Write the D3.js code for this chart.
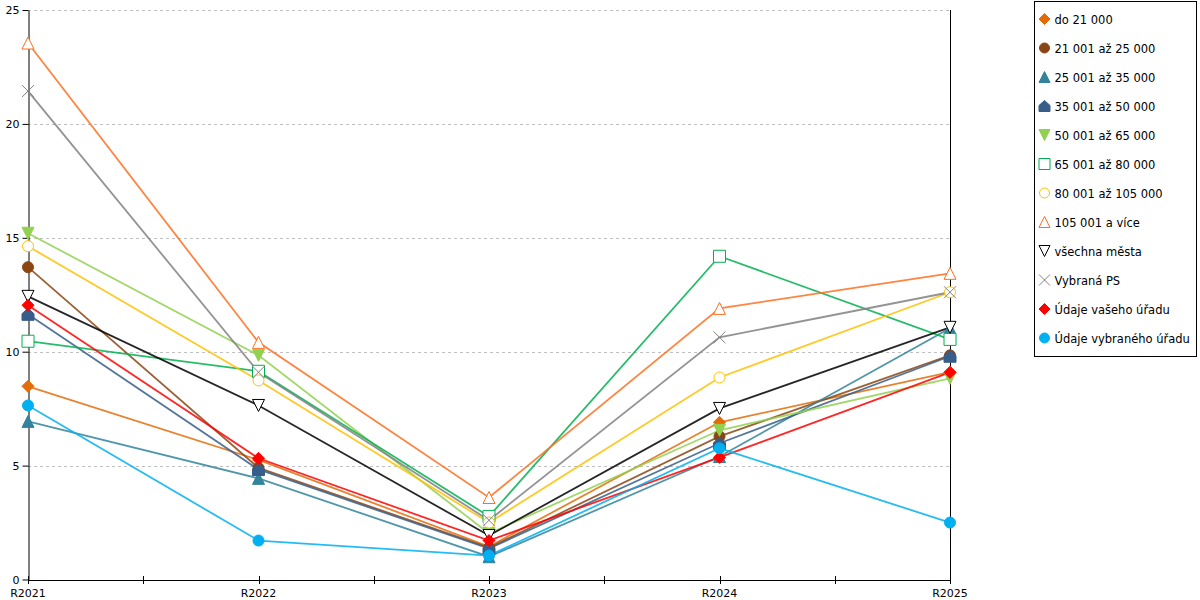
<!DOCTYPE html>
<html>
<head>
<meta charset="utf-8">
<script src="https://d3js.org/d3.v7.min.js"></script>
<style>
  body { margin: 0; background: #fff; }
  svg { display: block; font-family: "DejaVu Sans", Verdana, sans-serif; }
</style>
</head>
<body>
<div id="chart"></div>
<script>
// categories on the x axis
const years = ["R2021", "R2022", "R2023", "R2024", "R2025"];
const yTicks = [0, 5, 10, 15, 20, 25];

// series names (legend order) and values
const seriesNames = [
  "do 21 000", "21 001 až 25 000", "25 001 až 35 000", "35 001 až 50 000",
  "50 001 až 65 000", "65 001 až 80 000", "80 001 až 105 000", "105 001 a více",
  "všechna města", "Vybraná PS", "Údaje vašeho úřadu", "Údaje vybraného úřadu"
];
const do21 = [8.48, 5.25, 1.45, 6.9, 9.1];
const s21_25 = [13.71, 4.9, 1.4, 6.28, 9.84];
const s25_35 = [6.94, 4.44, 1.0, 5.4, 11.03];
const s35_50 = [11.64, 4.83, 1.36, 5.98, 9.8];
const s50_65 = [15.2, 9.84, 2.02, 6.55, 8.83];
const s65_80 = [10.46, 9.14, 2.77, 14.19, 10.54];
const s80_105 = [14.63, 8.74, 2.5, 8.87, 12.61];
const s105 = [23.55, 10.41, 3.6, 11.9, 13.44];
const vsechna = [12.43, 7.64, 1.93, 7.51, 11.07];
const vybranaPS = [21.44, 9.1, 2.6, 10.63, 12.61];
const vasUrad = [12.04, 5.32, 1.71, 5.36, 9.09];
const vybranyUrad = [7.64, 1.71, 1.05, 5.76, 2.5];

const seriesValues = [do21, s21_25, s25_35, s35_50, s50_65, s65_80, s80_105, s105,
  vsechna, vybranaPS, vasUrad, vybranyUrad];
const colors = ["#E36C09", "#8B4513", "#31849B", "#385D8A", "#92D050", "#00B050",
  "#FFC000", "#FF6F1F", "#000000", "#808080", "#FF0000", "#00B0F0"];
const markers = ["diamond", "circle", "triangle", "house", "triangleDown", "square",
  "circle", "triangle", "triangleDown", "cross", "diamond", "circle"];
const filled = [true, true, true, true, true, false, false, false, false, false, true, true];

const width = 1200, height = 600;
const svg = d3.select("#chart").append("svg")
  .attr("width", width).attr("height", height);

const x = d3.scalePoint().domain(years).range([28, 950]);
const y = d3.scaleLinear().domain([0, 25]).range([579.5, 10]);

// grid lines
svg.append("g").selectAll("line")
  .data(yTicks.filter(d => d > 0))
  .join("line")
  .attr("x1", 28).attr("x2", 950)
  .attr("y1", d => Math.round(y(d)) + 0.5).attr("y2", d => Math.round(y(d)) + 0.5)
  .attr("stroke", "#c0c0c0").attr("stroke-dasharray", "3,3");

// right border line
svg.append("line")
  .attr("x1", 950.5).attr("x2", 950.5).attr("y1", 10).attr("y2", 580)
  .attr("stroke", "#000");

// y axis
const yAxis = svg.append("g")
  .attr("transform", "translate(28.5,0)")
  .call(d3.axisLeft(y).tickValues(yTicks).tickSize(6).tickSizeOuter(0));
yAxis.selectAll("text").attr("font-size", 11).attr("fill", "#000")
  .attr("font-family", "DejaVu Sans, sans-serif");
yAxis.selectAll("line, .domain").attr("stroke", "#000");

// x axis with minor ticks between categories
const xAxisG = svg.append("g").attr("transform", "translate(0,580)");
xAxisG.append("line").attr("x1", 28).attr("x2", 950).attr("y1", 0.5).attr("y2", 0.5)
  .attr("stroke", "#000");
const minor = years.slice(1).map((d, i) => (x(years[i]) + x(d)) / 2);
const tickPos = years.map(d => x(d)).concat(minor);
xAxisG.selectAll("line.tick").data(tickPos).join("line")
  .attr("class", "tick")
  .attr("x1", d => Math.round(d) + 0.5).attr("x2", d => Math.round(d) + 0.5)
  .attr("y1", -4).attr("y2", 4).attr("stroke", "#000");
xAxisG.selectAll("text").data(years).join("text")
  .attr("x", d => x(d)).attr("y", 17)
  .attr("text-anchor", "middle").attr("font-size", 11)
  .text(d => d);

// marker shapes
function markerPath(type, s) {
  const h = s / 2;
  switch (type) {
    case "diamond": return `M0,${-h}L${h},0L0,${h}L${-h},0Z`;
    case "circle": return d3.symbol(d3.symbolCircle, Math.PI * h * h)();
    case "triangle": return `M0,${-h}L${h},${h}L${-h},${h}Z`;
    case "triangleDown": return `M${-h},${-h}L${h},${-h}L0,${h}Z`;
    case "square": return `M${-h},${-h}H${h}V${h}H${-h}Z`;
    case "house": return `M0,${-h}L${h},${-h * 0.1}V${h}H${-h}V${-h * 0.1}Z`;
    case "cross": return `M${-h},${-h}L${h},${h}M${h},${-h}L${-h},${h}`;
  }
}

const line = d3.line().x((d, i) => x(years[i])).y(d => y(d));

const plot = svg.append("g");
seriesValues.forEach((vals, k) => {
  plot.append("path")
    .attr("d", line(vals))
    .attr("fill", "none")
    .attr("stroke", colors[k])
    .attr("stroke-width", 1.8)
    .attr("stroke-opacity", 0.85);
});
seriesValues.forEach((vals, k) => {
  plot.append("g").selectAll("path")
    .data(vals)
    .join("path")
    .attr("transform", (d, i) => `translate(${x(years[i])},${y(d)})`)
    .attr("d", markerPath(markers[k], markers[k] === "circle" ? 11 : 12))
    .attr("fill", filled[k] ? colors[k] : (markers[k] === "cross" ? "none" : "#fff"))
    .attr("stroke", colors[k])
    .attr("stroke-width", 1);
});

// legend
const legend = svg.append("g").attr("transform", "translate(1034.5,1.5)");
legend.append("rect").attr("width", 162).attr("height", 355)
  .attr("fill", "#fff").attr("stroke", "#000");
const item = legend.selectAll("g.item").data(seriesNames).join("g")
  .attr("class", "item")
  .attr("transform", (d, i) => `translate(10,${17.5 + i * 29})`);
item.append("path")
  .attr("d", (d, i) => markerPath(markers[i], markers[i] === "circle" ? 10 : 11))
  .attr("fill", (d, i) => filled[i] ? colors[i] : (markers[i] === "cross" ? "none" : "#fff"))
  .attr("stroke", (d, i) => colors[i]);
item.append("text")
  .attr("x", 10).attr("y", 4.5)
  .attr("font-size", 11.5)
  .text(d => d);
</script>
</body>
</html>
